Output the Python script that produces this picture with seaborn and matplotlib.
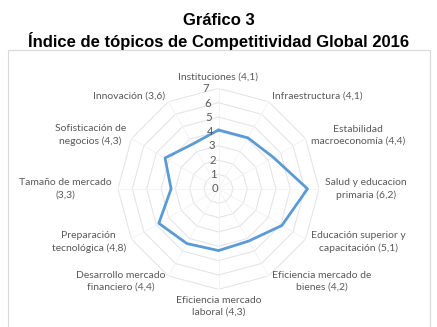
import numpy as np
import pandas as pd
import matplotlib

matplotlib.use("Agg")

import matplotlib.pyplot as plt
from matplotlib.patches import Rectangle
import seaborn as sns

categorias = [
    "Instituciones (4,1)",
    "Infraestructura (4,1)",
    "Estabilidad\nmacroeconomía (4,4)",
    "Salud y educacion\nprimaria (6,2)",
    "Educación superior y\ncapacitación (5,1)",
    "Eficiencia mercado de\nbienes (4,2)",
    "Eficiencia mercado\nlaboral (4,3)",
    "Desarrollo mercado\nfinanciero (4,4)",
    "Preparación\ntecnológica (4,8)",
    "Tamaño de mercado\n(3,3)",
    "Sofisticación de\nnegocios (4,3)",
    "Innovación (3,6)",
]
valores = [4.1, 4.1, 4.4, 6.2, 5.1, 4.2, 4.3, 4.4, 4.8, 3.3, 4.3, 3.6]
niveles = [0, 1, 2, 3, 4, 5, 6, 7]

sns.set_style("white")
plt.rcParams["font.family"] = ["Lato", "DejaVu Sans"]

n = len(categorias)
angulos = np.linspace(0, 2 * np.pi, n, endpoint=False)
cerrado = np.append(angulos, 2 * np.pi)

df = pd.DataFrame({
    "angulo": cerrado,
    "valor": valores + [valores[0]],
})

fig = plt.figure(figsize=(4.37, 3.27), dpi=100)
fig.patches.append(Rectangle((0.018, -0.05), 0.966, 0.897, transform=fig.transFigure,
                             fill=False, edgecolor="#d9d9d9", linewidth=0.8))
fig.text(0.5, 0.938, "Gráfico 3", ha="center", va="center", fontsize=12,
         fontweight="bold", family="Liberation Sans", color="#000000")
fig.text(0.5, 0.876, "Índice de tópicos de Competitividad Global 2016", ha="center",
         va="center", fontsize=12, fontweight="bold", family="Liberation Sans",
         color="#000000")

ax = fig.add_axes([0.27, 0.115, 0.46, 0.615], projection="polar")
ax.set_theta_offset(np.pi / 2)
ax.set_theta_direction(-1)
ax.set_ylim(0, 7)
ax.grid(False)
ax.spines["polar"].set_visible(False)
ax.set_xticks([])
ax.set_yticks([])

# rejilla poligonal
for nv in niveles[1:]:
    ax.plot(cerrado, [nv] * (n + 1), color="#e4e4e4", linewidth=0.75, zorder=1)
for a in angulos:
    ax.plot([a, a], [0, 7], color="#f2f2f2", linewidth=0.6, zorder=1)

sns.lineplot(data=df, x="angulo", y="valor", sort=False, estimator=None, ax=ax,
             color="#5b9bd5", linewidth=2, zorder=3, legend=False)
ax.set_xlabel("")
ax.set_ylabel("")

for nv in niveles:
    ax.text(-0.09 if nv else 0, nv, str(nv), ha="right", va="center",
            fontsize=8.2, color="#595959")

for a, lab in zip(angulos, categorias):
    s, c = np.sin(a), np.cos(a)
    ha = "left" if s > 0.1 else ("right" if s < -0.1 else "center")
    va = "bottom" if c > 0.95 else ("top" if c < -0.95 else "center")
    ax.text(a, 7.45, lab, ha=ha, va=va, fontsize=7.5, color="#595959",
            multialignment="center", linespacing=1.45)

fig.savefig("out.png", dpi=100)
